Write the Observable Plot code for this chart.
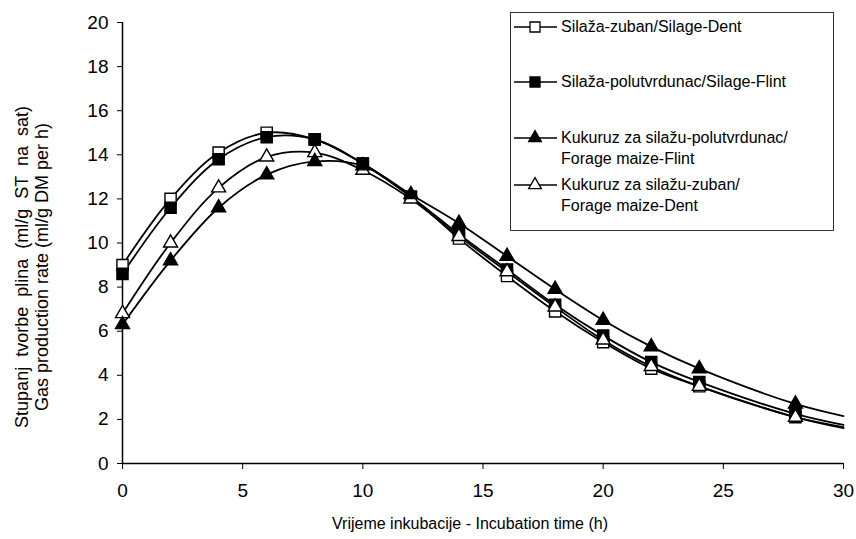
<!DOCTYPE html>
<html>
<head>
<meta charset="utf-8">
<script src="https://cdn.jsdelivr.net/npm/d3@7"></script>
<script src="https://cdn.jsdelivr.net/npm/@observablehq/plot@0.6"></script>
<style>
  body { margin: 0; background: white; }
  #wrap { position: relative; width: 856px; height: 539px; font-family: "Liberation Sans", Arial, sans-serif; }
  #legend { position: absolute; left: 510px; top: 12px; width: 324px; height: 219px; border: 1px solid #333; box-sizing: border-box; background: white; }
  .entry { position: absolute; left: 0; font-size: 16px; line-height: 21px; color: #000; white-space: nowrap; }
  .entry svg { position: absolute; left: 2px; top: 0; }
  .entry .txt { position: absolute; left: 50px; top: 0; }
</style>
</head>
<body>
<div id="wrap"></div>
<script>
const hours = [0, 2, 4, 6, 8, 10, 12, 14, 16, 18, 20, 22, 24, 28, 30];
const markerHours = [0, 2, 4, 6, 8, 10, 12, 14, 16, 18, 20, 22, 24, 28];
const seriesNames = [
  "Silaža-zuban/Silage-Dent",
  "Silaža-polutvrdunac/Silage-Flint",
  "Kukuruz za silažu-zuban/ Forage maize-Dent",
  "Kukuruz za silažu-polutvrdunac/ Forage maize-Flint"
];
const silageDent = [9.0, 12.0, 14.1, 15.0, 14.7, 13.6, 12.1, 10.2, 8.5, 6.9, 5.5, 4.3, 3.5, 2.1, 1.65];
const silageFlint = [8.6, 11.6, 13.8, 14.8, 14.7, 13.6, 12.1, 10.4, 8.8, 7.2, 5.8, 4.6, 3.7, 2.25, 1.75];
const forageDent = [6.8, 10.0, 12.5, 13.9, 14.1, 13.3, 12.0, 10.3, 8.7, 7.1, 5.6, 4.4, 3.5, 2.1, 1.6];
const forageFlint = [6.3, 9.2, 11.6, 13.1, 13.7, 13.5, 12.2, 10.9, 9.4, 7.9, 6.5, 5.3, 4.3, 2.7, 2.15];
const xTicks = [0, 5, 10, 15, 20, 25, 30];
const yTicks = [0, 2, 4, 6, 8, 10, 12, 14, 16, 18, 20];
const xLabel = "Vrijeme inkubacije - Incubation time (h)";
const yLabel1 = "Stupanj  tvorbe  plina  (ml/g  ST  na  sat)";
const yLabel2 = "Gas production rate (ml/g DM per h)";

const allSeries = [silageDent, silageFlint, forageDent, forageFlint];
const symbols = ["square", "square", "triangle", "triangle"];
const fills = ["white", "black", "white", "black"];
const sizes = [6.3, 6.3, 5.2, 5.2];

const rows = [];
allSeries.forEach((vals, i) => {
  hours.forEach((h, j) => rows.push({series: seriesNames[i], idx: i, t: h, v: vals[j]}));
});
const dotRows = rows.filter(d => markerHours.includes(d.t));

const plot = Plot.plot({
  width: 856,
  height: 539,
  marginLeft: 122,
  marginRight: 13,
  marginTop: 22,
  marginBottom: 76,
  style: {fontFamily: "'Liberation Sans', Arial, sans-serif", fontSize: "18px", color: "black", background: "white", overflow: "visible"},
  x: {domain: [0, 30]},
  y: {domain: [0, 20]},
  r: {type: "identity"},
  symbol: {domain: [0, 1, 2, 3], range: symbols},
  marks: [
    Plot.ruleX([0], {stroke: "black", strokeWidth: 1.5}),
    Plot.ruleY([0], {stroke: "black", strokeWidth: 1.5}),
    Plot.axisX({ticks: xTicks, tickSize: 6, tickPadding: 14, tickFormat: d => d, label: null, fontSize: 19}),
    Plot.axisY({ticks: yTicks, tickSize: 5, tickPadding: 9, tickFormat: d => d, label: null, fontSize: 19}),
    Plot.line(rows, {x: "t", y: "v", z: "series", stroke: "black", strokeWidth: 1.8, curve: "catmull-rom"}),
    Plot.dot(dotRows, {x: "t", y: "v", symbol: "idx", r: d => sizes[d.idx], stroke: "black", strokeWidth: 1.4,
      fill: d => fills[d.idx], sort: {channel: "symbol"}}),
    Plot.text([xLabel], {frameAnchor: "bottom", dy: 65, fontSize: 16, textAnchor: "middle", dx: -13}),
    Plot.text([yLabel1], {frameAnchor: "left", textAnchor: "middle", dx: -100, dy: 24, rotate: -90, fontSize: 18}),
    Plot.text([yLabel2], {frameAnchor: "left", textAnchor: "middle", dx: -80, dy: 24, rotate: -90, fontSize: 18})
  ]
});
document.getElementById("wrap").appendChild(plot);

// Legend
const legend = document.createElement("div");
legend.id = "legend";
const entries = [
  {i: 0, top: 3, lines: [seriesNames[0]]},
  {i: 1, top: 58, lines: [seriesNames[1]]},
  {i: 3, top: 114, lines: ["Kukuruz za silažu-polutvrdunac/", "Forage maize-Flint"]},
  {i: 2, top: 161, lines: ["Kukuruz za silažu-zuban/", "Forage maize-Dent"]}
];
entries.forEach(e => {
  const div = document.createElement("div");
  div.className = "entry";
  div.style.top = e.top + "px";
  const s = d3.create("svg").attr("width", 46).attr("height", 21);
  s.append("line").attr("x1", 1).attr("x2", 44).attr("y1", 11).attr("y2", 11).attr("stroke", "black").attr("stroke-width", 1.5);
  const sym = e.i < 2 ? d3.symbolSquare : d3.symbolTriangle;
  s.append("path").attr("d", d3.symbol(sym, e.i < 2 ? 100 : 70)()).attr("transform", "translate(22,11)")
    .attr("fill", fills[e.i]).attr("stroke", "black").attr("stroke-width", 1.3);
  div.appendChild(s.node());
  const t = document.createElement("div");
  t.className = "txt";
  t.innerHTML = e.lines.join("<br>");
  div.appendChild(t);
  legend.appendChild(div);
});
document.getElementById("wrap").appendChild(legend);
</script>
</body>
</html>
